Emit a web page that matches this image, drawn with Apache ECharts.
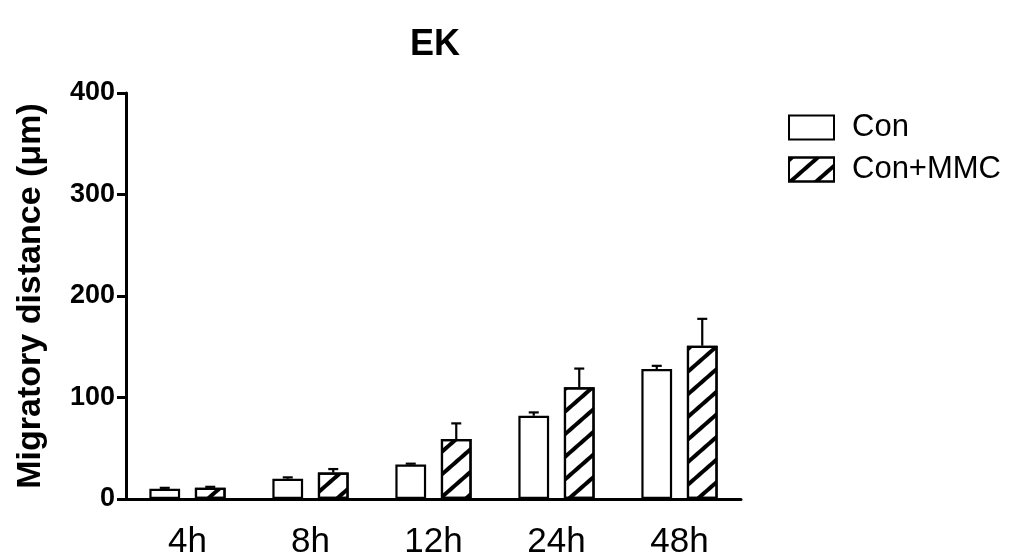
<!DOCTYPE html>
<html>
<head>
<meta charset="utf-8">
<script src="https://cdn.jsdelivr.net/npm/echarts@6/dist/echarts.min.js"></script>
<style>
  html, body { margin: 0; padding: 0; background: #fff; }
  #chart { width: 1013px; height: 560px; }
</style>
</head>
<body>
<div id="chart"></div>
<script>
// Time points and group means with upper error (SEM) for migratory distance in µm
const timePoints = ['4h', '8h', '12h', '24h', '48h'];
const conMean = [10, 20, 34, 82, 128];
const conErr = [1, 1.3, 0.8, 3.3, 3.2];
const mmcMean = [11, 26, 59, 110, 151];
const mmcErr = [1, 3.5, 15.5, 18.5, 26.5];
const seriesNames = ['Con', 'Con+MMC'];

const FONT = '"Liberation Sans", Arial, sans-serif';
const BAR_WIDTH_RATIO = 0.25;   // bar width as share of the category band
const BAR_GAP_RATIO = 0.48;     // gap between paired bars relative to bar width

// Upper error whiskers drawn over the bars, offset to each bar's center
function errorRenderer(means, errs, side) {
  return function (params, api) {
    const i = api.value(0);
    const band = api.size([1, 0])[0];
    const barW = band * BAR_WIDTH_RATIO;
    const offset = (barW + barW * BAR_GAP_RATIO) / 2 * side;
    const base = api.coord([i, means[i]]);
    const top = api.coord([i, means[i] + errs[i]]);
    const x = base[0] + offset;
    const capHalf = 5;
    const style = { stroke: '#000', lineWidth: 2.2 };
    return {
      type: 'group',
      children: [
        { type: 'line', shape: { x1: x, y1: base[1], x2: x, y2: top[1] }, style: style },
        { type: 'line', shape: { x1: x - capHalf, y1: top[1], x2: x + capHalf, y2: top[1] }, style: style }
      ]
    };
  };
}

const chart = echarts.init(document.getElementById('chart'));
chart.setOption({
  animation: false,
  backgroundColor: '#fff',
  title: {
    text: 'EK',
    left: 430,
    textAlign: 'center',
    top: 22,
    textStyle: { fontFamily: FONT, fontSize: 36, fontWeight: 'bold', color: '#000' }
  },
  legend: {
    left: 783,
    top: 107,
    orient: 'vertical',
    icon: 'rect',
    itemWidth: 45,
    itemHeight: 24,
    itemGap: 11,
    data: seriesNames,
    textStyle: { fontFamily: FONT, fontSize: 31, color: '#000', padding: [0, 0, 0, 13] }
  },
  grid: { left: 126, right: 272, top: 93, bottom: 60, containLabel: false },
  xAxis: {
    type: 'category',
    data: timePoints,
    axisLine: { lineStyle: { color: '#000', width: 3 } },
    axisTick: { show: false },
    axisLabel: { fontFamily: FONT, fontSize: 35, color: '#000', margin: 26 }
  },
  yAxis: {
    type: 'value',
    min: 0,
    max: 400,
    interval: 100,
    name: 'Migratory distance (\u03bcm)',
    nameLocation: 'middle',
    nameGap: 78,
    nameTextStyle: { fontFamily: FONT, fontSize: 34, fontWeight: 'bold', color: '#000' },
    axisLine: { show: true, lineStyle: { color: '#000', width: 3 } },
    axisTick: { show: true, length: 9, lineStyle: { color: '#000', width: 3 } },
    axisLabel: { fontFamily: FONT, fontSize: 27, fontWeight: 'bold', color: '#000', margin: 11 },
    splitLine: { show: false }
  },
  series: [
    {
      name: seriesNames[0],
      type: 'bar',
      data: conMean,
      barWidth: (BAR_WIDTH_RATIO * 100) + '%',
      barGap: (BAR_GAP_RATIO * 100) + '%',
      itemStyle: { color: '#fff', borderColor: '#000', borderWidth: 2.2 }
    },
    {
      name: seriesNames[1],
      type: 'bar',
      data: mmcMean,
      barWidth: (BAR_WIDTH_RATIO * 100) + '%',
      barGap: (BAR_GAP_RATIO * 100) + '%',
      itemStyle: {
        color: '#fff',
        borderColor: '#000',
        borderWidth: 2.2,
        decal: {
          symbol: 'rect',
          symbolSize: 1,
          dashArrayX: [1, 0],
          dashArrayY: [3.5, 13],
          rotation: -0.72,
          color: '#000'
        }
      }
    },
    {
      type: 'custom',
      renderItem: errorRenderer(conMean, conErr, -1),
      data: timePoints.map(function (_, i) { return [i]; }),
      z: 5,
      silent: true
    },
    {
      type: 'custom',
      renderItem: errorRenderer(mmcMean, mmcErr, 1),
      data: timePoints.map(function (_, i) { return [i]; }),
      z: 5,
      silent: true
    }
  ]
});
</script>
</body>
</html>
